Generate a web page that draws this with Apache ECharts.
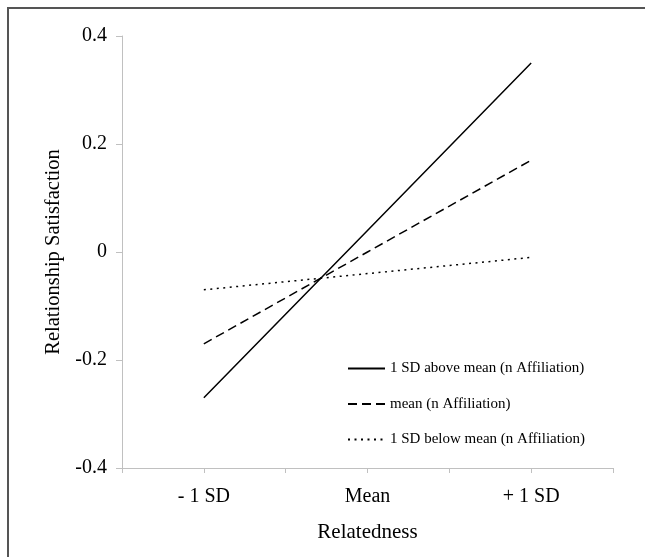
<!DOCTYPE html>
<html>
<head>
<meta charset="utf-8">
<script src="https://cdn.jsdelivr.net/npm/echarts@6/dist/echarts.min.js"></script>
<style>
  html, body { margin: 0; padding: 0; background: #fff; }
  #chart { position: absolute; left: 0; top: 0; width: 645px; height: 557px; }
  #frame { position: absolute; left: 7px; top: 7px; right: 0; bottom: 0;
           border-left: 2px solid #555; border-top: 2px solid #555; pointer-events: none; }
</style>
</head>
<body>
<div id="chart"></div>
<div id="frame"></div>
<script>
// categories on the x axis
const relatedness = ['- 1 SD', 'Mean', '+ 1 SD'];

// simple slopes of relationship satisfaction
const aboveMean = [-0.27, 0.04, 0.35];
const atMean = [-0.17, 0, 0.17];
const belowMean = [-0.07, -0.04, -0.01];

const seriesNames = [
  '1 SD above mean (n Affiliation)',
  'mean (n Affiliation)',
  '1 SD below mean (n Affiliation)'
];

const yTicks = { min: -0.4, max: 0.4, step: 0.2 };

const font = '"Liberation Serif", "Times New Roman", serif';
const axisGray = '#c0c0c0';

function makeLine(name, values, dash) {
  return {
    name,
    type: 'line',
    data: values,
    symbol: 'none',
    silent: true,
    itemStyle: { color: '#000' },
    lineStyle: { color: '#000', width: 1.5, type: dash }
  };
}

const chart = echarts.init(document.getElementById('chart'), null, { renderer: 'canvas' });
chart.setOption({
  animation: false,
  backgroundColor: '#fff',
  color: ['#000', '#000', '#000'],
  textStyle: { fontFamily: font, color: '#000' },
  grid: { left: 122, right: 32, top: 36, bottom: 89, containLabel: false },
  legend: {
    orient: 'vertical',
    left: 342,
    top: 356,
    itemWidth: 37,
    itemHeight: 14,
    itemGap: 20.5,
    selectedMode: false,
    itemStyle: { opacity: 0 },
    textStyle: { fontFamily: font, fontSize: 15, color: '#000' },
    data: seriesNames
  },
  xAxis: [
    {
      type: 'category',
      data: relatedness,
      boundaryGap: true,
      name: 'Relatedness',
      nameLocation: 'middle',
      nameGap: 54,
      nameTextStyle: { fontFamily: font, fontSize: 21, color: '#000' },
      axisLine: { onZero: false, lineStyle: { color: axisGray, width: 1 } },
      axisTick: { show: true, alignWithLabel: false, length: 5, lineStyle: { color: axisGray } },
      axisLabel: { fontFamily: font, fontSize: 20, color: '#000', margin: 19 },
      splitLine: { show: false }
    },
    {
      type: 'category',
      data: relatedness,
      boundaryGap: true,
      position: 'bottom',
      axisLine: { show: false, onZero: false },
      axisTick: { show: true, alignWithLabel: true, length: 5, lineStyle: { color: axisGray } },
      axisLabel: { show: false },
      splitLine: { show: false }
    }
  ],
  yAxis: {
    type: 'value',
    min: yTicks.min,
    max: yTicks.max,
    interval: yTicks.step,
    name: 'Relationship Satisfaction',
    nameLocation: 'middle',
    nameGap: 56,
    nameTextStyle: { fontFamily: font, fontSize: 20.5, color: '#000' },
    axisLine: { show: true, lineStyle: { color: axisGray, width: 1 } },
    axisTick: { show: true, length: 6, lineStyle: { color: axisGray } },
    axisLabel: { fontFamily: font, fontSize: 20, color: '#000', margin: 15,
                 formatter: v => String(Math.round(v * 10) / 10) },
    splitLine: { show: false }
  },
  series: [
    makeLine(seriesNames[0], aboveMean, 'solid'),
    makeLine(seriesNames[1], atMean, [9, 5]),
    makeLine(seriesNames[2], belowMean, [2, 4.5])
  ]
});
</script>
</body>
</html>
